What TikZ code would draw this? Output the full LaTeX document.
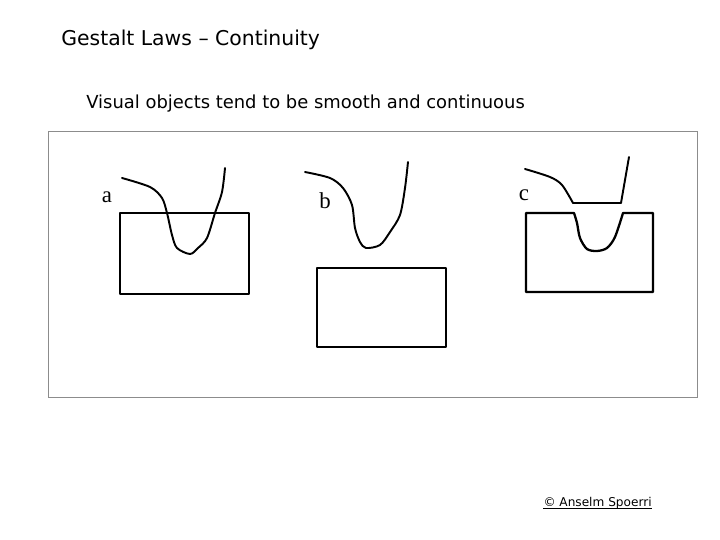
\documentclass[tikz,border=0pt]{standalone}
\usepackage{fontspec}
\setmainfont{DejaVu Sans}
\newfontfamily\labelfont{Liberation Serif}
\usepackage{tikz}
\usepackage{xcolor}
\definecolor{framegray}{rgb}{0.55,0.55,0.55}
\tikzset{
  shapeline/.style={line width=1.3pt, line join=round},
  curveline/.style={line width=1.1pt, line cap=round, line join=round},
  panellabel/.style={font=\labelfont\fontsize{13}{13}\selectfont, inner sep=0pt}
}

\begin{document}
\begin{tikzpicture}[x=0.02cm,y=-0.02cm]
    % Khung trang
    \useasboundingbox (0,0) rectangle (720,540);
    % Tieu de
    \node[anchor=west, inner sep=0pt, font=\fontsize{11.6}{13}\selectfont] (title) at (61,40) {Gestalt Laws – Continuity};
    \node[anchor=west, inner sep=0pt, font=\fontsize{10.2}{12}\selectfont] (subtitle) at (86,104) {Visual objects tend to be smooth and continuous};
    % Khung hinh
    \draw[framegray, line width=0.5pt] (48,131) rectangle (697,397);
    % Hinh a
    \draw[shapeline] (120,213) rectangle (249,294);
    \draw[curveline] plot[smooth, tension=0.5] coordinates {(122,178) (150,187) (162,198) (167,213) (172,235) (177,248) (190,254) (198,248) (207,238) (215,213) (222,192) (225,168)};
    \node[panellabel] (lbla) at (107,197) {a};
    % Hinh b
    \draw[shapeline] (317,268) rectangle (446,347);
    \draw[curveline] plot[smooth, tension=0.5] coordinates {(305,172) (330,178) (343,188) (352,205) (355,228) (360,242) (366,248) (380,245) (390,232) (400,215) (405,188) (408,162)};
    \node[panellabel] (lblb) at (325,201) {b};
    % Hinh c
    \draw[shapeline] (526,213) -- plot[smooth, tension=0.5] coordinates {(574,213) (577,223) (580,238) (587,249) (597,251) (607,248) (615,237) (623,213)} -- (653,213) -- (653,292) -- (526,292) -- cycle;
    \draw[curveline] plot[smooth, tension=0.5] coordinates {(525,169) (550,177) (562,185) (573,203)} -- (621,203) -- (629,157);
    \node[panellabel] (lblc) at (524,195) {c};
    % Ban quyen
    \node[anchor=base east, inner sep=0pt, font=\fontsize{6.9}{8}\selectfont] (credit) at (652,506) {© Anselm Spoerri};
    \draw[line width=0.5pt] ([yshift=-1.2pt]credit.base west) -- ([yshift=-1.2pt]credit.base east);
\end{tikzpicture}
\end{document}
